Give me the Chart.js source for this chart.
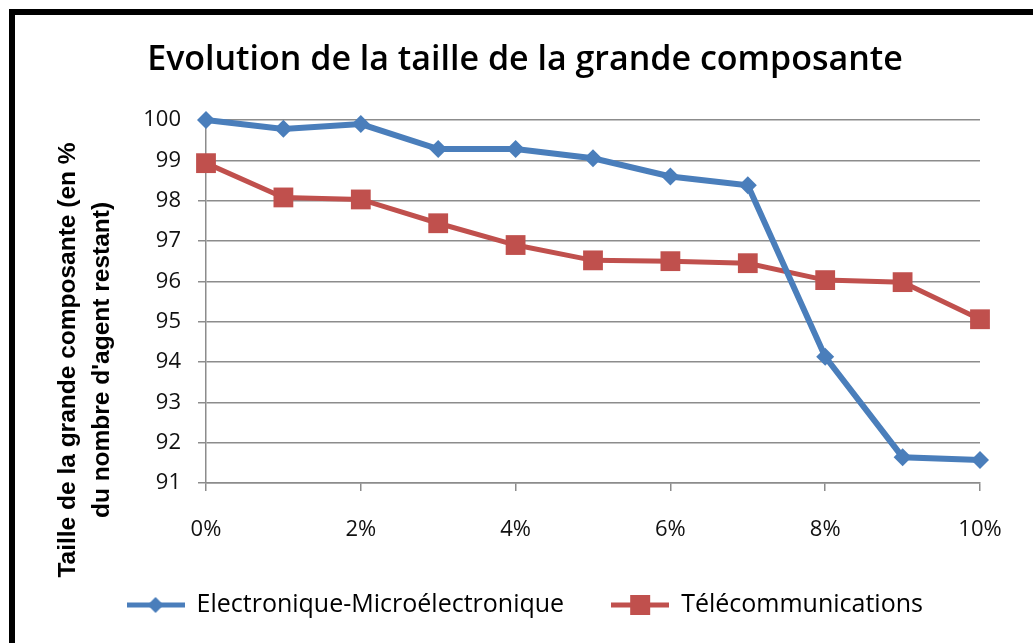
<!DOCTYPE html>
<html>
<head>
<meta charset="utf-8">
<script src="https://cdn.jsdelivr.net/npm/chart.js@4.4.1/dist/chart.umd.min.js"></script>
<style>
  html, body { margin: 0; padding: 0; background: #fff; }
  #wrap { position: relative; width: 1033px; height: 643px; overflow: hidden; }
  #frame { position: absolute; left: 9px; top: 9px; width: 1100px; height: 700px;
           border-left: 6px solid #000; border-top: 6px solid #000; pointer-events: none; }
  canvas { position: absolute; left: 0; top: 0; }
</style>
</head>
<body>
<div id="wrap">
  <canvas id="c" width="1033" height="643"></canvas>
  <div id="frame"></div>
</div>
<script>
const chartTitle = "Evolution de la taille de la grande composante";
const yTitleLines = ["Taille de la grande composante (en %", "du nombre d'agent restant)"];
const xValues = [0, 1, 2, 3, 4, 5, 6, 7, 8, 9, 10];
const seriesNames = ["Electronique-Microélectronique", "Télécommunications"];
const electroValues = [100, 99.78, 99.9, 99.28, 99.28, 99.05, 98.6, 98.38, 94.13, 91.64, 91.57];
const telecomValues = [98.93, 98.08, 98.03, 97.44, 96.9, 96.52, 96.5, 96.45, 96.03, 95.98, 95.06];
const yMin = 91, yMax = 100, yStep = 1;
const xMin = 0, xMax = 10, xStep = 2;

const BLUE = '#4a7ebb';
const RED = '#c0504d';
const GRID = '#8c8c8c';

function legendIcon(color, kind) {
  const c = document.createElement('canvas');
  c.width = 58; c.height = 24;
  const g = c.getContext('2d');
  g.strokeStyle = color; g.lineWidth = 5;
  g.beginPath(); g.moveTo(0, 12); g.lineTo(58, 12); g.stroke();
  g.fillStyle = color;
  if (kind === 'diamond') {
    g.beginPath(); g.moveTo(29, 4); g.lineTo(37, 12); g.lineTo(29, 20); g.lineTo(21, 12); g.closePath(); g.fill();
  } else {
    g.fillRect(19, 2, 20, 20);
  }
  return c;
}
const icons = [legendIcon(BLUE, 'diamond'), legendIcon(RED, 'square')];

const yTitlePlugin = {
  id: 'yTitle',
  afterDraw(chart) {
    const ctx = chart.ctx;
    ctx.save();
    ctx.font = 'bold 24.5px "Liberation Sans", Arial, sans-serif';
    ctx.fillStyle = '#000';
    ctx.textAlign = 'center';
    ctx.textBaseline = 'middle';
    const cy = 360;
    const xs = [68, 102];
    yTitleLines.forEach((t, i) => {
      ctx.save();
      ctx.translate(xs[i], cy);
      ctx.rotate(-Math.PI / 2);
      ctx.fillText(t, 0, 0);
      ctx.restore();
    });
    ctx.restore();
  }
};

new Chart(document.getElementById('c'), {
  type: 'line',
  data: {
    datasets: [
      {
        label: seriesNames[0],
        data: xValues.map((x, i) => ({ x, y: electroValues[i] })),
        borderColor: BLUE,
        backgroundColor: BLUE,
        borderWidth: 6,
        pointStyle: 'rectRot',
        pointRadius: 9,
        pointBorderWidth: 0,
        pointBackgroundColor: BLUE,
        tension: 0,
        clip: false
      },
      {
        label: seriesNames[1],
        data: xValues.map((x, i) => ({ x, y: telecomValues[i] })),
        borderColor: RED,
        backgroundColor: RED,
        borderWidth: 5,
        pointStyle: 'rect',
        pointRadius: 14,
        pointBorderWidth: 0,
        pointBackgroundColor: RED,
        tension: 0,
        clip: false
      }
    ]
  },
  options: {
    responsive: false,
    animation: false,
    devicePixelRatio: 1,
    layout: { padding: { left: 70, right: 53, top: 0, bottom: 15.5 } },
    plugins: {
      title: {
        display: true,
        text: chartTitle,
        color: '#000',
        font: { family: '"Open Sans", sans-serif', size: 34, weight: '600', lineHeight: 1.2 },
        padding: { top: 39.6, bottom: 39.6 }
      },
      legend: {
        position: 'bottom',
        labels: {
          usePointStyle: true,
          pointStyleWidth: 57,
          padding: 47.5,
          color: '#000',
          font: { family: '"Open Sans", sans-serif', size: 25 },
          generateLabels(chart) {
            const items = Chart.defaults.plugins.legend.labels.generateLabels(chart);
            items.forEach((it, i) => { it.pointStyle = icons[i]; it.rotation = 0; });
            return items;
          }
        }
      },
      tooltip: { enabled: false }
    },
    scales: {
      x: {
        type: 'linear',
        min: xMin, max: xMax,
        afterFit(scale) { scale.height = 62; },
        ticks: {
          stepSize: xStep,
          color: '#111',
          padding: 25.8,
          font: { family: '"Open Sans", sans-serif', size: 22 },
          callback: v => v + '%'
        },
        grid: { drawOnChartArea: false, drawTicks: true, tickLength: 8, color: GRID, lineWidth: 1.5 },
        border: { display: true, color: GRID, width: 1.5 }
      },
      y: {
        min: yMin, max: yMax,
        afterFit(scale) { scale.width = 136; },
        ticks: {
          stepSize: yStep,
          color: '#111',
          padding: 17,
          font: { family: '"Open Sans", sans-serif', size: 22 }
        },
        grid: { drawOnChartArea: true, drawTicks: true, tickLength: 8, color: GRID, lineWidth: 1.5 },
        border: { display: true, color: GRID, width: 1.5 }
      }
    }
  },
  plugins: [yTitlePlugin]
});
</script>
</body>
</html>
